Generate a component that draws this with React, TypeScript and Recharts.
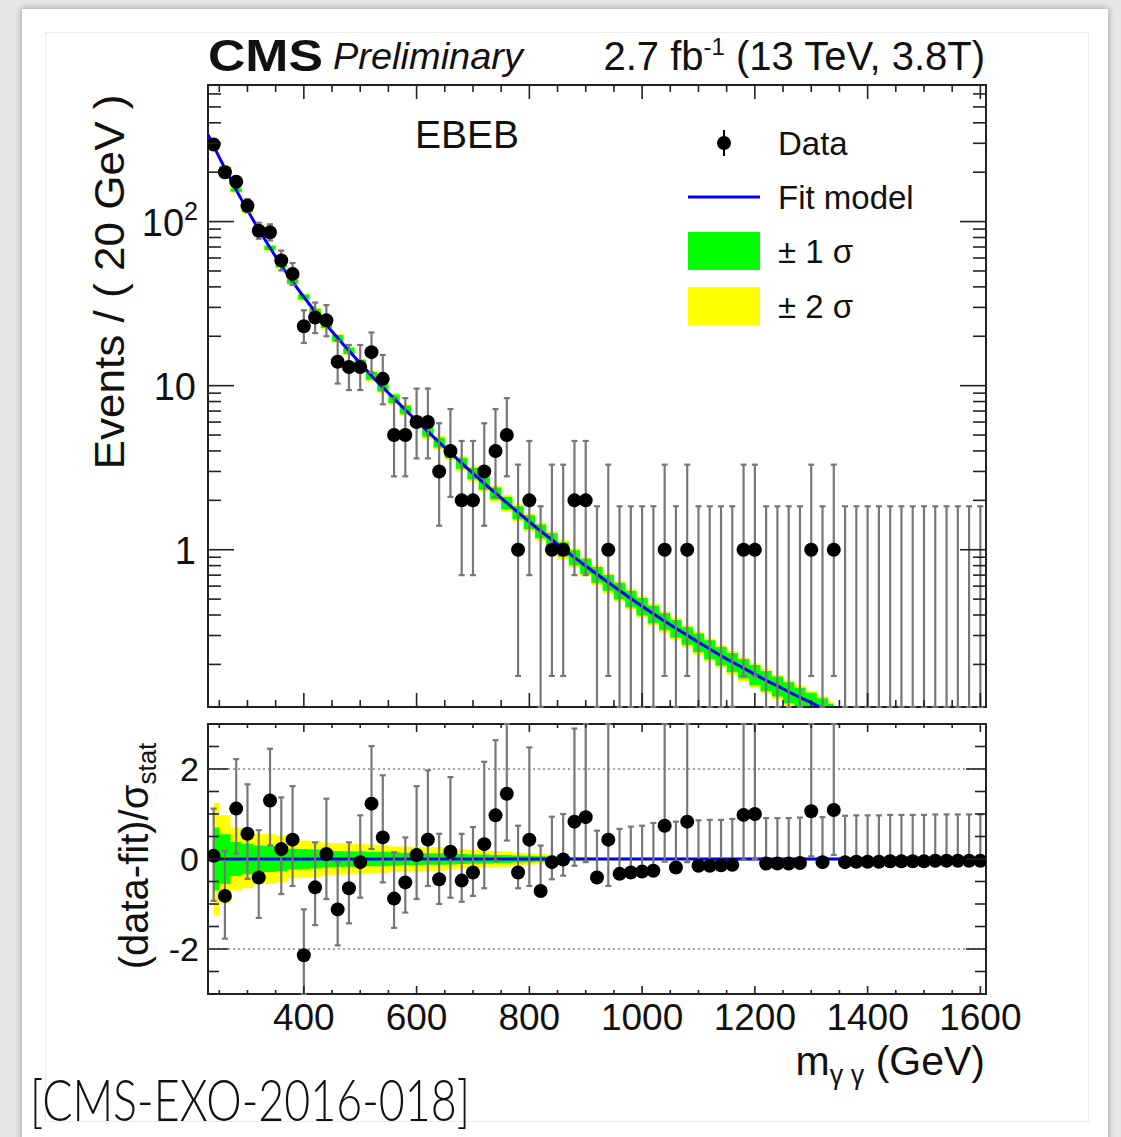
import React from 'react';
import {
  ComposedChart,
  Line,
  Area,
  Scatter,
  ErrorBar,
  XAxis,
  YAxis,
  ReferenceLine,
  ReferenceArea,
} from 'recharts';

// ---------------- data ----------------
// bin centres (20 GeV bins)
const massBins = [
  240, 260, 280, 300, 320, 340, 360, 380, 400, 420, 440, 460, 480, 500, 520, 540, 560, 580, 600, 620,
  640, 660, 680, 700, 720, 740, 760, 780, 800, 820, 840, 860, 880, 900, 920, 940, 960, 980, 1000, 1020,
  1040, 1060, 1080, 1100, 1120, 1140, 1160, 1180, 1200, 1220, 1240, 1260, 1280, 1300, 1320, 1340, 1360,
  1380, 1400, 1420, 1440, 1460, 1480, 1500, 1520, 1540, 1560, 1580, 1600,
];

// observed events per bin
const counts = [
  295, 200, 175, 125, 88, 86, 58, 48, 23, 26, 25, 14, 13, 13, 16, 11, 5, 5, 6, 6,
  3, 4, 2, 2, 3, 4, 5, 1, 2, 0, 1, 1, 2, 2, 0, 1, 0, 0, 0, 0,
  1, 0, 1, 0, 0, 0, 0, 1, 1, 0, 0, 0, 0, 1, 0, 1, 0,
  0, 0, 0, 0, 0, 0, 0, 0, 0, 0, 0, 0,
];

// asymmetric (Poisson) errors on the counts
const errLow = [
  17.1, 14.1, 13.2, 11.1, 9.4, 9.3, 7.6, 6.9, 4.8, 5.1, 5.0, 3.7, 3.6, 3.6, 4.0, 3.3, 2.2, 2.2, 2.4, 2.4,
  1.6, 1.9, 1.3, 1.3, 1.6, 1.9, 2.2, 0.83, 1.3, 0, 0.83, 0.83, 1.3, 1.3, 0, 0.83, 0, 0, 0, 0,
  0.83, 0, 0.83, 0, 0, 0, 0, 0.83, 0.83, 0, 0, 0, 0, 0.83, 0, 0.83, 0,
  0, 0, 0, 0, 0, 0, 0, 0, 0, 0, 0, 0,
];
const errHigh = [
  18.2, 15.2, 14.2, 12.2, 10.4, 10.3, 8.6, 7.9, 5.8, 6.1, 6.0, 4.8, 4.7, 4.7, 5.1, 4.4, 3.4, 3.4, 3.6, 3.6,
  2.9, 3.2, 2.6, 2.6, 2.9, 3.2, 3.4, 2.3, 2.6, 1.84, 2.3, 2.3, 2.6, 2.6, 1.84, 2.3, 1.84, 1.84, 1.84, 1.84,
  2.3, 1.84, 2.3, 1.84, 1.84, 1.84, 1.84, 2.3, 2.3, 1.84, 1.84, 1.84, 1.84, 2.3, 1.84, 2.3, 1.84,
  1.84, 1.84, 1.84, 1.84, 1.84, 1.84, 1.84, 1.84, 1.84, 1.84, 1.84, 1.84,
];

// fit model curve
const fitMass = [
  230, 240, 260, 280, 300, 320, 340, 360, 380, 400, 420, 440, 460, 480, 500, 520, 540, 560, 580, 600,
  620, 640, 660, 680, 700, 720, 740, 760, 780, 800, 820, 840, 860, 880, 900, 920, 940, 960, 980, 1000,
  1020, 1040, 1060, 1080, 1100, 1120, 1140, 1160, 1180, 1200, 1220, 1240, 1260, 1280, 1300, 1320, 1340,
];
const fitValues = [
  339, 288, 211, 156, 117.5, 89.5, 69.2, 54.2, 43.1, 34.7, 28.3, 23.4, 19.5, 16.3, 13.7, 11.5, 9.77, 8.34, 7.13, 6.11,
  5.25, 4.52, 3.9, 3.37, 2.92, 2.54, 2.21, 1.93, 1.69, 1.48, 1.3, 1.15, 1.01, 0.898, 0.796, 0.708, 0.631, 0.564, 0.505, 0.453,
  0.407, 0.367, 0.332, 0.301, 0.273, 0.248, 0.226, 0.207, 0.19, 0.174, 0.16, 0.148, 0.136, 0.126, 0.117, 0.108, 0.1,
];

// fit uncertainty (percent) for bins 240 ... 1340
const sigma1Pct = [
  2.5, 2.5, 2.5, 2.5, 3, 3, 3, 3, 3.5, 4, 4, 4.5, 4.5, 5, 5.5, 5.5, 6, 6, 6.5, 7,
  7, 7.5, 7.5, 8, 8.5, 8.5, 9, 9, 9.5, 9.5, 10, 10, 10.5, 10.5, 11, 11, 11.5, 11.5, 12, 12,
  12, 12.5, 12.5, 13, 13, 13, 13.5, 13.5, 14, 14, 14, 14.5, 14.5, 15, 15, 15,
];
const sigma2Pct = [
  4, 4, 4, 4, 4.5, 4.5, 4.5, 4.5, 5, 5.5, 5.5, 6, 6, 6.5, 7.5, 7.5, 8, 8, 8.5, 9.5,
  9.5, 10, 10, 10.5, 11.5, 11.5, 12, 12, 12.5, 12.5, 13, 13, 13.5, 13.5, 14, 14, 14.5, 14.5, 15, 15,
  15, 15.5, 15.5, 16, 16, 16, 16.5, 16.5, 17, 17, 17, 17.5, 17.5, 18, 18, 18,
];

// residual panel: (data - fit) / sigma_stat
const pulls = [
  0.07, -0.82, 1.12, 0.56, -0.41, 1.3, 0.22, 0.43, -2.14, -0.63, 0.11, -1.12, -0.65, -0.07, 1.23, 0.48, -0.88, -0.52, 0.09, 0.43,
  -0.45, 0.16, -0.48, -0.3, 0.33, 0.97, 1.45, -0.3, 0.43, -0.71, -0.07, -0.01, 0.83, 0.93, -0.41, 0.43, -0.33, -0.3, -0.28, -0.26,
  0.74, -0.19, 0.83, -0.15, -0.15, -0.14, -0.13, 0.98, 1.0, -0.1, -0.1, -0.1, -0.09, 1.06, -0.07, 1.09, -0.07,
  -0.06, -0.06, -0.06, -0.05, -0.05, -0.05, -0.05, -0.04, -0.04, -0.04, -0.04, -0.04,
];
const pullErrLow = [
  1.0, 0.95, 1.0, 1.0, 0.9, 1.0, 1.0, 1.03, 1.0, 0.84, 1.0, 0.8, 0.78, 0.79, 1.01, 1.0, 0.65, 0.67, 0.98, 1.03,
  0.55, 1.02, 0.47, 0.52, 0.98, 1.01, 1.04, 0.35, 1.03, 0, 0.38, 0.36, 0.98, 1.0, 0, 1.03, 0, 0, 0, 0,
  0.8, 0, 0.9, 0, 0, 0, 0, 1.0, 1.0, 0, 0, 0, 0, 1.0, 0, 1.0, 0,
  0, 0, 0, 0, 0, 0, 0, 0, 0, 0, 0, 0,
];
const pullErrHigh = [
  1.05, 1.0, 1.1, 1.1, 1.05, 1.15, 1.15, 1.19, 1.02, 1.0, 1.23, 1.05, 1.02, 1.04, 1.28, 1.38, 1.03, 1.0, 1.53, 1.54,
  1.01, 1.66, 1.04, 1.01, 1.83, 1.67, 1.7, 1.04, 2.05, 1.01, 1.01, 1.01, 2.07, 2.1, 1.04, 2.78, 1.0, 1.02, 1.02, 1.06,
  2.8, 1.02, 2.8, 1.01, 1.02, 1.01, 1.02, 2.9, 2.9, 1.01, 1.01, 1.01, 1.01, 2.9, 1.0, 2.9, 1.03,
  1.03, 1.03, 1.03, 1.03, 1.03, 1.03, 1.03, 1.03, 1.03, 1.03, 1.03, 1.03,
];
// fit-uncertainty band in the residual panel (half widths)
const pullBand1 = [
  0.7, 0.55, 0.38, 0.34, 0.3, 0.29, 0.27, 0.23, 0.22, 0.21, 0.19, 0.18, 0.17, 0.17, 0.16, 0.16, 0.15, 0.14, 0.14, 0.13,
  0.13, 0.12, 0.11, 0.1, 0.1, 0.09, 0.09, 0.08, 0.07, 0.06, 0.05, 0.04, 0.03, 0.03, 0.02, 0.02, 0.02, 0.02, 0.02, 0.02,
  0.02, 0.02, 0.02, 0.02, 0.02, 0.02, 0.02, 0.02, 0.02, 0.02, 0.02, 0.02, 0.02, 0.02, 0.02, 0.02, 0.02,
  0.02, 0.02, 0.02, 0.02, 0.02, 0.02, 0.02, 0.02, 0.02, 0.02, 0.02, 0.02,
];
const pullBand2 = [
  1.25, 0.97, 0.7, 0.65, 0.56, 0.55, 0.52, 0.43, 0.41, 0.4, 0.36, 0.35, 0.34, 0.34, 0.32, 0.31, 0.28, 0.28, 0.27, 0.26,
  0.26, 0.24, 0.21, 0.2, 0.19, 0.18, 0.17, 0.14, 0.13, 0.11, 0.09, 0.07, 0.05, 0.05, 0.035, 0.035, 0.035, 0.035, 0.035, 0.035,
  0.035, 0.035, 0.035, 0.035, 0.035, 0.035, 0.035, 0.035, 0.035, 0.035, 0.035, 0.035, 0.035, 0.035, 0.035, 0.035, 0.035,
  0.035, 0.035, 0.035, 0.035, 0.035, 0.035, 0.035, 0.035, 0.035, 0.035, 0.035, 0.035,
];

// axes ticks
const xTicks = [
  250, 300, 350, 400, 450, 500, 550, 600, 650, 700, 750, 800, 850, 900, 950, 1000, 1050, 1100, 1150,
  1200, 1250, 1300, 1350, 1400, 1450, 1500, 1550, 1600,
];
const xTickLabels = [400, 600, 800, 1000, 1200, 1400, 1600];
const yTicksTop = [
  0.2, 0.3, 0.4, 0.5, 0.6, 0.7, 0.8, 0.9, 1, 2, 3, 4, 5, 6, 7, 8, 9, 10, 20, 30, 40, 50, 60, 70, 80, 90,
  100, 200, 300, 400, 500, 600,
];
const yTickLabelsTop = [1, 10, 100];
const yTicksBottom = [-2.5, -2, -1.5, -1, -0.5, 0, 0.5, 1, 1.5, 2, 2.5];
const yTickLabelsBottom = [-2, 0, 2];

// ---------------- layout constants ----------------
const X_DOMAIN: [number, number] = [230, 1610];
const Y_MIN = 0.11;
const Y_MAX = 680;
const PULL_MIN = -3;
const PULL_MAX = 3;
const PLOT_W = 778;
const TOP_H = 622;
const BOT_H = 270;
const FONT = '"Liberation Sans", Arial, Helvetica, sans-serif';
const INK = '#222';

// ---------------- derived tables ----------------
// empty bins: bar starts at the frame (axis minimum), no marker
const topPoints = massBins.map((m, i) => ({
  m,
  n: counts[i],
  y: counts[i] > 0 ? counts[i] : Y_MIN,
  err: counts[i] > 0 ? [errLow[i], errHigh[i]] : [0, errHigh[i] - Y_MIN],
}));

const fitLine = fitMass.map((m, i) => ({ m, fit: fitValues[i] }));

const bandTop = fitMass.slice(1).map((m, i) => {
  const f = fitValues[i + 1];
  return {
    m,
    b1: [f * (1 - sigma1Pct[i] / 100), f * (1 + sigma1Pct[i] / 100)],
    b2: [f * (1 - sigma2Pct[i] / 100), f * (1 + sigma2Pct[i] / 100)],
  };
});

// error bars are cut at the frame of the pull panel
const pullPoints = massBins.map((m, i) => ({
  m,
  r: pulls[i],
  err: [Math.min(pullErrLow[i], pulls[i] - PULL_MIN), Math.min(pullErrHigh[i], PULL_MAX - pulls[i])],
  b1: [-pullBand1[i], pullBand1[i]],
  b2: [-pullBand2[i], pullBand2[i]],
}));

// ---------------- tick renderers ----------------
function TopXTick(props: any) {
  const { x, y, payload } = props;
  const major = xTickLabels.includes(payload.value);
  const len = major ? 14 : 7;
  return (
    <g stroke={INK} strokeWidth={1.6}>
      <line x1={x} y1={y} x2={x} y2={y - len} />
      <line x1={x} y1={y - TOP_H} x2={x} y2={y - TOP_H + len} />
    </g>
  );
}

function BottomXTick(props: any) {
  const { x, y, payload } = props;
  const major = xTickLabels.includes(payload.value);
  const len = major ? 8 : 4;
  return (
    <g>
      <line x1={x} y1={y} x2={x} y2={y - len} stroke={INK} strokeWidth={1.6} />
      <line x1={x} y1={y - BOT_H} x2={x} y2={y - BOT_H + len} stroke={INK} strokeWidth={1.6} />
      {major && (
        <text x={x} y={y + 36} textAnchor="middle" fontSize={37} fontFamily={FONT} fill="#111">
          {payload.value}
        </text>
      )}
    </g>
  );
}

function TopYTick(props: any) {
  const { x, y, payload } = props;
  const v = payload.value;
  const major = yTickLabelsTop.includes(v);
  const len = major ? 26 : 13;
  return (
    <g>
      <line x1={x} y1={y} x2={x + len} y2={y} stroke={INK} strokeWidth={1.6} />
      <line x1={x + PLOT_W} y1={y} x2={x + PLOT_W - len} y2={y} stroke={INK} strokeWidth={1.6} />
      {major &&
        (v === 100 ? (
          <text x={x - 10} y={y + 14} textAnchor="end" fontSize={38} fontFamily={FONT} fill="#111">
            10
            <tspan dy={-16} fontSize={25}>
              2
            </tspan>
          </text>
        ) : (
          <text x={x - 12} y={y + 14} textAnchor="end" fontSize={38} fontFamily={FONT} fill="#111">
            {v}
          </text>
        ))}
    </g>
  );
}

function BottomYTick(props: any) {
  const { x, y, payload } = props;
  const v = payload.value;
  const major = yTickLabelsBottom.includes(v);
  const len = major ? 20 : 11;
  return (
    <g>
      <line x1={x} y1={y} x2={x + len} y2={y} stroke={INK} strokeWidth={1.6} />
      <line x1={x + PLOT_W} y1={y} x2={x + PLOT_W - len} y2={y} stroke={INK} strokeWidth={1.6} />
      {major && (
        <text x={x - 9} y={y + 12} textAnchor="end" fontSize={34} fontFamily={FONT} fill="#111">
          {String(v)}
        </text>
      )}
    </g>
  );
}

function DataDot(props: any) {
  const { cx, cy, payload } = props;
  if (!payload || payload.n === 0) return <g />;
  return <circle cx={cx} cy={cy} r={7} fill="#000" />;
}

function PullDot(props: any) {
  const { cx, cy } = props;
  return <circle cx={cx} cy={cy} r={7} fill="#000" />;
}

// ---------------- component ----------------
export default function App() {
  return (
    <div
      style={{
        position: 'absolute',
        left: 0,
        top: 0,
        width: 1121,
        height: 1137,
        background: '#e7e7e7',
        overflow: 'hidden',
        fontFamily: FONT,
      }}
    >
      {/* slide card */}
      <div
        style={{
          position: 'absolute',
          left: 22,
          top: 9,
          width: 1086,
          height: 1160,
          background: '#fff',
          boxShadow: '0 0 6px 1px rgba(0,0,0,0.28)',
        }}
      />
      <div
        style={{
          position: 'absolute',
          left: 45,
          top: 32,
          width: 1042,
          height: 1088,
          border: '1px solid #ececec',
        }}
      />

      {/* top panel */}
      <div style={{ position: 'absolute', left: 0, top: 0 }}>
        <ComposedChart width={1121} height={720} margin={{ top: 85, right: 135, bottom: 12, left: 207 }}>
          <XAxis
            dataKey="m"
            type="number"
            domain={X_DOMAIN}
            allowDataOverflow
            ticks={xTicks}
            interval={0}
            tick={TopXTick}
            tickLine={false}
            axisLine={false}
            height={1}
            tickSize={0}
            tickMargin={0}
          />
          <YAxis
            type="number"
            scale="log"
            domain={[Y_MIN, Y_MAX]}
            allowDataOverflow
            ticks={yTicksTop}
            interval={0}
            tick={TopYTick}
            tickLine={false}
            axisLine={false}
            width={1}
            tickSize={0}
            tickMargin={0}
          />
          <Area
            data={bandTop}
            dataKey="b2"
            type="step"
            stroke="none"
            fill="#ffff00"
            fillOpacity={1}
            isAnimationActive={false}
          />
          <Area
            data={bandTop}
            dataKey="b1"
            type="step"
            stroke="none"
            fill="#00ff00"
            fillOpacity={1}
            isAnimationActive={false}
          />
          <Line
            data={fitLine}
            dataKey="fit"
            type="monotone"
            stroke="#0000ff"
            strokeWidth={3}
            dot={false}
            isAnimationActive={false}
          />
          <Scatter data={topPoints} dataKey="y" shape={DataDot} isAnimationActive={false}>
            <ErrorBar dataKey="err" direction="y" width={3} stroke="#777" strokeWidth={2.2} isAnimationActive={false} />
          </Scatter>
          <ReferenceArea
            x1={X_DOMAIN[0]}
            x2={X_DOMAIN[1]}
            y1={Y_MIN}
            y2={Y_MAX}
            fill="none"
            fillOpacity={0}
            stroke={INK}
            strokeWidth={2}
            ifOverflow="visible"
          />
        </ComposedChart>
      </div>

      {/* residual panel */}
      <div style={{ position: 'absolute', left: 0, top: 715 }}>
        <ComposedChart width={1121} height={420} margin={{ top: 9, right: 135, bottom: 140, left: 207 }}>
          <XAxis
            dataKey="m"
            type="number"
            domain={X_DOMAIN}
            allowDataOverflow
            ticks={xTicks}
            interval={0}
            tick={BottomXTick}
            tickLine={false}
            axisLine={false}
            height={1}
            tickSize={0}
            tickMargin={0}
          />
          <YAxis
            type="number"
            domain={[PULL_MIN, PULL_MAX]}
            allowDataOverflow
            ticks={yTicksBottom}
            interval={0}
            tick={BottomYTick}
            tickLine={false}
            axisLine={false}
            width={1}
            tickSize={0}
            tickMargin={0}
          />
          <Area
            data={pullPoints}
            dataKey="b2"
            type="step"
            stroke="none"
            fill="#ffff00"
            fillOpacity={1}
            isAnimationActive={false}
          />
          <Area
            data={pullPoints}
            dataKey="b1"
            type="step"
            stroke="none"
            fill="#00ff00"
            fillOpacity={1}
            isAnimationActive={false}
          />
          <ReferenceLine y={2} stroke="#888" strokeWidth={1.5} strokeDasharray="2 3" />
          <ReferenceLine y={-2} stroke="#888" strokeWidth={1.5} strokeDasharray="2 3" />
          <ReferenceLine y={0} stroke="#0000ff" strokeWidth={3} />
          <Scatter data={pullPoints} dataKey="r" shape={PullDot} isAnimationActive={false}>
            <ErrorBar dataKey="err" direction="y" width={3} stroke="#777" strokeWidth={2.2} isAnimationActive={false} />
          </Scatter>
          <ReferenceArea
            x1={X_DOMAIN[0]}
            x2={X_DOMAIN[1]}
            y1={PULL_MIN}
            y2={PULL_MAX}
            fill="none"
            fillOpacity={0}
            stroke={INK}
            strokeWidth={2}
            ifOverflow="visible"
          />
        </ComposedChart>
      </div>

      {/* texts and legend */}
      <svg
        width={1121}
        height={1137}
        style={{ position: 'absolute', left: 0, top: 0, pointerEvents: 'none' }}
        fontFamily={FONT}
      >
        <text x={208} y={71} fontSize={45} fontWeight="bold" fill="#111" textLength={115} lengthAdjust="spacingAndGlyphs">
          CMS
        </text>
        <text x={333} y={69} fontSize={37} fontStyle="italic" fill="#111" textLength={190} lengthAdjust="spacingAndGlyphs">
          Preliminary
        </text>
        <text x={985} y={70} fontSize={40} textAnchor="end" fill="#111">
          2.7 fb
          <tspan dy={-15} fontSize={24}>
            -1
          </tspan>
          <tspan dy={15}> (13 TeV, 3.8T)</tspan>
        </text>

        <text x={467} y={148} fontSize={39} textAnchor="middle" fill="#111">
          EBEB
        </text>

        {/* legend */}
        <line x1={724} y1={130} x2={724} y2={156} stroke="#000" strokeWidth={2} />
        <circle cx={724} cy={143} r={7} fill="#000" />
        <text x={778} y={155} fontSize={33} fill="#111">
          Data
        </text>
        <line x1={688} y1={197} x2={760} y2={197} stroke="#0000ff" strokeWidth={3} />
        <text x={778} y={209} fontSize={33} fill="#111">
          Fit model
        </text>
        <rect x={688} y={232} width={72} height={38} fill="#00ff00" />
        <text x={778} y={263} fontSize={33} fill="#111">
          ± 1 σ
        </text>
        <rect x={688} y={287} width={72} height={38} fill="#ffff00" />
        <text x={778} y={318} fontSize={33} fill="#111">
          ± 2 σ
        </text>

        {/* axis titles */}
        <text
          transform="translate(124,282) rotate(-90)"
          textAnchor="middle"
          fontSize={42}
          fill="#111"
          textLength={375}
          lengthAdjust="spacingAndGlyphs"
        >
          Events / ( 20 GeV )
        </text>
        <text transform="translate(148,856) rotate(-90)" textAnchor="middle" fontSize={40} fill="#111">
          (data-fit)/σ
          <tspan dy={8} fontSize={26}>
            stat
          </tspan>
        </text>
        <text x={985} y={1075} fontSize={41} textAnchor="end" fill="#111">
          m
          <tspan dy={9} fontSize={27}>
            γ γ
          </tspan>
          <tspan dy={-9}> (GeV)</tspan>
        </text>

        <text
          x={30}
          y={1121}
          fontSize={58}
          fontFamily="Lato, 'Open Sans', sans-serif"
          fontWeight={300}
          fill="#111"
          textLength={440}
          lengthAdjust="spacingAndGlyphs"
        >
          [CMS-EXO-2016-018]
        </text>
      </svg>
    </div>
  );
}
